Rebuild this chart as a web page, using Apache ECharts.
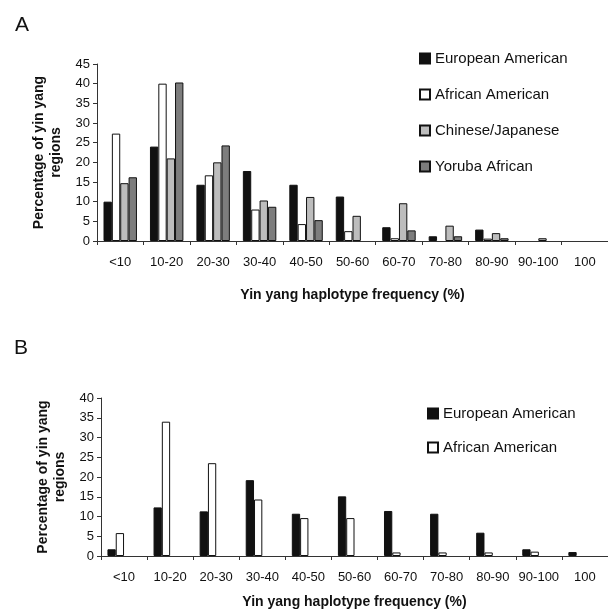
<!DOCTYPE html>
<html>
<head>
<meta charset="utf-8">
<script src="https://cdn.jsdelivr.net/npm/echarts@6/dist/echarts.min.js"></script>
<style>
  html, body { margin: 0; padding: 0; background: #fff; }
  #main { width: 608px; height: 613px; }
</style>
</head>
<body>
<div id="main"></div>
<script>
// categories (haplotype frequency bins)
var bins = ['<10', '10-20', '20-30', '30-40', '40-50', '50-60', '60-70', '70-80', '80-90', '90-100', '100']

// panel A
var euroA = [10, 24, 14.3, 17.8, 14.3, 11.3, 3.5, 1.2, 2.9, 0, 0]
var afrA = [27.3, 40, 16.7, 8, 4.3, 2.5, 0.7, 0, 0.6, 0, 0]
var chjpA = [14.7, 21, 20, 10.3, 11.2, 6.4, 9.6, 3.9, 2, 0.7, 0]
var yorA = [16.2, 40.3, 24.3, 8.7, 5.3, 0, 2.7, 1.2, 0.7, 0, 0]

// panel B
var euroB = [1.7, 12.3, 11.3, 19.2, 10.7, 15.1, 11.4, 10.7, 5.9, 1.7, 1]
var afrB = [5.8, 34, 23.5, 14.3, 9.6, 9.6, 0.9, 0.9, 0.9, 1.1, 0]

var txt = '#111'
var font = 'Liberation Sans'

function xAx (gi, nameGap) {
  return {
    type: 'category', gridIndex: gi, data: bins,
    axisLine: { lineStyle: { color: '#333', width: 1 } },
    axisTick: { show: true, interval: 0, length: 4, lineStyle: { color: '#333' } },
    axisLabel: { color: txt, fontSize: 13, fontFamily: font, margin: 15, interval: 0 },
    name: 'Yin yang haplotype frequency (%)',
    nameLocation: 'middle', nameGap: nameGap,
    nameTextStyle: { color: txt, fontSize: 14, fontWeight: 'bold', fontFamily: font }
  }
}
function yAx (gi, max) {
  return {
    type: 'value', gridIndex: gi, min: 0, max: max, interval: 5,
    axisLine: { show: true, lineStyle: { color: '#333' } },
    axisTick: { show: true, length: 4, lineStyle: { color: '#333' } },
    axisLabel: { color: txt, fontSize: 13, fontFamily: font, margin: 7 },
    splitLine: { show: false },
    name: 'Percentage of yin yang\nregions',
    nameLocation: 'middle', nameGap: 31, nameRotate: 90,
    nameTextStyle: { color: txt, fontSize: 14, fontWeight: 'bold', fontFamily: font, lineHeight: 17 }
  }
}
function bar (name, data, gi, color) {
  return {
    name: name, type: 'bar',
    // empty bins are left out instead of drawing a flat outline
    data: data.map(function (v) { return v === 0 ? '-' : v }),
    xAxisIndex: gi, yAxisIndex: gi,
    barGap: '0%', barCategoryGap: '28%',
    itemStyle: { color: color, borderColor: '#111', borderWidth: 1 },
    emphasis: { disabled: true }
  }
}
var legendText = { color: txt, fontSize: 15, fontFamily: font }

var chart = echarts.init(document.getElementById('main'))
chart.setOption({
  animation: false,
  backgroundColor: '#fff',
  title: [
    { text: 'A', left: 10, top: 10, textStyle: { fontSize: 21, fontWeight: 'normal', color: txt, fontFamily: font } },
    { text: 'B', left: 9, top: 333, textStyle: { fontSize: 21, fontWeight: 'normal', color: txt, fontFamily: font } }
  ],
  legend: [
    {
      data: ['European American', 'African American', 'Chinese/Japanese', 'Yoruba African'],
      orient: 'vertical', left: 414, top: 46, itemGap: 21, itemWidth: 10, itemHeight: 10,
      icon: 'rect', textStyle: legendText
    },
    {
      data: ['European American ', 'African American '],
      orient: 'vertical', left: 422, top: 401, itemGap: 19, itemWidth: 10, itemHeight: 10,
      icon: 'rect', textStyle: legendText
    }
  ],
  grid: [
    { left: 97, top: 64, height: 177, right: -9 },
    { left: 101, top: 398, height: 158, right: -6 }
  ],
  xAxis: [xAx(0, 47), xAx(1, 39)],
  yAxis: [yAx(0, 45), yAx(1, 40)],
  series: [
    bar('European American', euroA, 0, '#111'),
    bar('African American', afrA, 0, '#fff'),
    bar('Chinese/Japanese', chjpA, 0, '#bdbdbd'),
    bar('Yoruba African', yorA, 0, '#7d7d7d'),
    bar('European American ', euroB, 1, '#111'),
    bar('African American ', afrB, 1, '#fff'),
    // empty slots: panel B keeps the four-bar group layout of panel A
    bar('slot3', [], 1, '#fff'),
    bar('slot4', [], 1, '#fff')
  ]
})
</script>
</body>
</html>
